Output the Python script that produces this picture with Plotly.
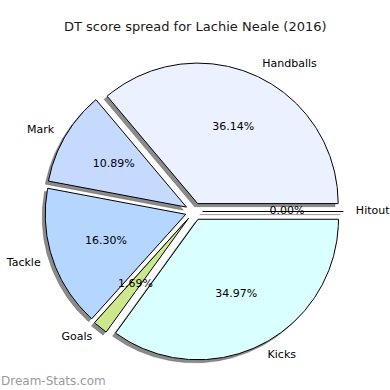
import numpy as np
import plotly.graph_objects as go

# ---- data ----
categories = ["Hitout", "Handballs", "Mark", "Tackle", "Goals", "Kicks"]
values = [0.00, 36.14, 10.89, 16.30, 1.69, 34.97]
colors = ["#E8E8E8", "#EBF1FF", "#C6D9FF", "#B5D6FF", "#CCE88C", "#DAFFFF"]
title_text = "DT score spread for Lachie Neale (2016)"
watermark = "Dream-Stats.com"

# ---- geometry (matplotlib-like pie: start at 0 deg, counter-clockwise) ----
W = H = 390
CX, CY, R = 194.0, 211.5, 140.5   # pixel centre and radius
explode = 0.062
shadow_off = 0.022
labeldistance, pctdistance = 1.09, 0.6

fig = go.Figure()
total = sum(values)
fracs = [v / total for v in values]
starts = np.cumsum([0] + fracs[:-1]) * 360.0

def wedge(t0, t1, dx, dy):
    th = np.radians(np.linspace(t0, t1, max(2, int(abs(t1 - t0) * 2) + 2)))
    xs = np.concatenate([[dx], dx + np.cos(th), [dx]])
    ys = np.concatenate([[dy], dy + np.sin(th), [dy]])
    return xs, ys

geo = []
for f, s in zip(fracs, starts):
    t0, t1 = s, s + f * 360.0
    tm = np.radians((t0 + t1) / 2)
    dx, dy = explode * np.cos(tm), explode * np.sin(tm)
    geo.append((t0, t1, tm, dx, dy))

# shadows
for (t0, t1, tm, dx, dy) in geo:
    xs, ys = wedge(t0, t1, dx - shadow_off, dy - shadow_off)
    fig.add_trace(go.Scatter(x=xs, y=ys, mode="lines", fill="toself",
                             fillcolor="rgba(55,55,55,0.58)",
                             line=dict(color="rgba(55,55,55,0.58)", width=0.5),
                             hoverinfo="skip", showlegend=False))
# wedges
for (t0, t1, tm, dx, dy), c, name in zip(geo, colors, categories):
    xs, ys = wedge(t0, t1, dx, dy)
    fig.add_trace(go.Scatter(x=xs, y=ys, mode="lines", fill="toself",
                             fillcolor=c, line=dict(color="black", width=1),
                             name=name, showlegend=False))

# percentage texts
px = [dx + pctdistance * np.cos(tm) for (_, _, tm, dx, dy) in geo]
py = [dy + pctdistance * np.sin(tm) for (_, _, tm, dx, dy) in geo]
fig.add_trace(go.Scatter(x=px, y=py, mode="text",
                         text=[f"{v:.2f}%" for v in values],
                         textposition="middle center",
                         textfont=dict(family="DejaVu Sans", size=11, color="black"),
                         hoverinfo="skip", showlegend=False))

# category labels
for (t0, t1, tm, dx, dy), name in zip(geo, categories):
    lx = dx + labeldistance * np.cos(tm)
    ly = dy + labeldistance * np.sin(tm)
    fig.add_trace(go.Scatter(x=[lx], y=[ly], mode="text", text=[name],
                             textposition="middle right" if np.cos(tm) >= 0 else "middle left",
                             textfont=dict(family="DejaVu Sans", size=11, color="black"),
                             hoverinfo="skip", showlegend=False))

fig.add_annotation(text=title_text, xref="paper", yref="paper", x=0.5, y=1 - 27 / H,
                   xanchor="center", yanchor="middle", showarrow=False,
                   font=dict(family="DejaVu Sans", size=13, color="#1a1a1a"))
fig.add_annotation(text=watermark, xref="paper", yref="paper", x=-0.003, y=1 - 381 / H,
                   xanchor="left", yanchor="middle", showarrow=False,
                   font=dict(family="DejaVu Sans", size=12, color="#9a9a9a"))

fig.update_layout(
    width=W, height=H, margin=dict(l=0, r=0, t=0, b=0),
    paper_bgcolor="white", plot_bgcolor="white",
    xaxis=dict(range=[-CX / R, (W - CX) / R], visible=False, fixedrange=True),
    yaxis=dict(range=[(CY - H) / R, CY / R], visible=False, fixedrange=True),
    showlegend=False,
)
fig.write_html("out.html", config={"displayModeBar": False},
               post_script="document.body.style.margin='0';document.body.style.overflow='hidden';")
